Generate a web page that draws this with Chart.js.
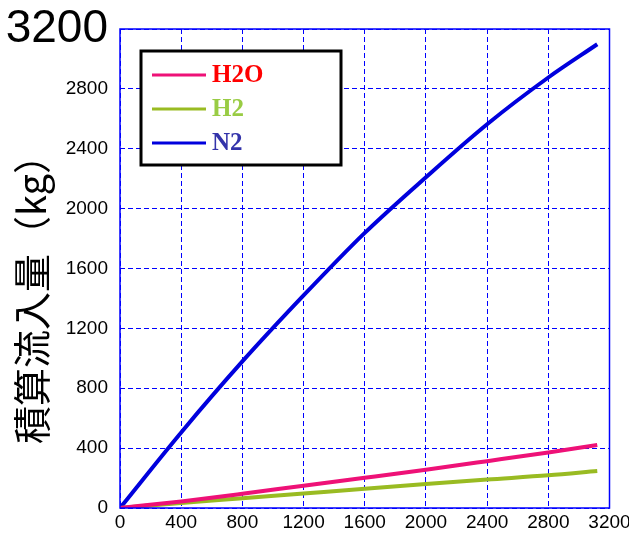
<!DOCTYPE html>
<html>
<head>
<meta charset="utf-8">
<script src="https://cdn.jsdelivr.net/npm/chart.js@4"></script>
<style>
	html, body { margin: 0; padding: 0; background: #fff; }
	#wrap { width: 629px; height: 535px; position: relative; }
</style>
</head>
<body>
<div id="wrap"><canvas id="flow-canvas"></canvas></div>
<script>
// Values
const elapsed = [0, 400, 800, 1200, 1600, 2000, 2400, 2800, 3120];
const h2o = [0, 44, 95, 149, 202, 256, 313, 371, 421];
const h2 = [0, 33, 65, 97, 129, 160, 190, 218, 247];
const n2 = [0, 505, 979, 1420, 1838, 2210, 2564, 2876, 3098];

const seriesNames = ["H2O", "H2", "N2"];
const lineColors = ["#ee1177", "#99bb22", "#0000dd"];
const textColors = ["#ff0000", "#99cc44", "#3333aa"];
const yTitle = "積算流入量（kg）";

const tickFont = "'Liberation Sans Narrow', 'Liberation Sans', Arial, sans-serif";
const gridDash = [5, 3];

function toPoints(values) {
	return elapsed.map((x, i) => ({ x: x, y: values[i] }));
}

// Blue frame + y title + boxed legend
const decorations = {
	id: "decorations",
	afterDraw(chart) {
		const ctx = chart.ctx;
		const area = chart.chartArea;
		ctx.save();

		// plot frame
		ctx.strokeStyle = "#0000ff";
		ctx.lineWidth = 1.5;
		ctx.strokeRect(area.left, area.top, area.right - area.left, area.bottom - area.top);

		// y title
		ctx.translate(32, 290);
		ctx.rotate(-Math.PI / 2);
		ctx.fillStyle = "#000";
		ctx.font = "38px 'Noto Sans CJK JP', sans-serif";
		ctx.textAlign = "center";
		ctx.textBaseline = "middle";
		ctx.fillText(yTitle, 0, 0);
		ctx.restore();

		// legend box
		ctx.save();
		ctx.fillStyle = "#fff";
		ctx.fillRect(141, 51, 200, 114);
		ctx.strokeStyle = "#000";
		ctx.lineWidth = 3;
		ctx.strokeRect(141, 51, 200, 114);
		chart.data.datasets.forEach((ds, i) => {
			const y = 75 + i * 34;
			ctx.strokeStyle = ds.borderColor;
			ctx.lineWidth = 3;
			ctx.beginPath();
			ctx.moveTo(152, y);
			ctx.lineTo(206, y);
			ctx.stroke();
			ctx.fillStyle = textColors[i];
			ctx.font = "bold 25px 'Liberation Serif', 'Times New Roman', serif";
			ctx.textAlign = "left";
			ctx.textBaseline = "middle";
			ctx.fillText(ds.label, 212, y + 1);
		});
		ctx.restore();
	}
};

const ctx = document.getElementById("flow-canvas").getContext("2d");

const chart = new Chart(ctx, {
	type: "line",
	data: {
		datasets: [
			{ label: seriesNames[0], data: toPoints(h2o), borderColor: lineColors[0] },
			{ label: seriesNames[1], data: toPoints(h2), borderColor: lineColors[1] },
			{ label: seriesNames[2], data: toPoints(n2), borderColor: lineColors[2] }
		]
	},
	options: {
		responsive: true,
		maintainAspectRatio: false,
		animation: false,
		layout: {
			padding: { top: 29, right: 19.5, bottom: 0, left: 0 }
		},
		elements: {
			point: { radius: 0 },
			line: { borderWidth: 4, cubicInterpolationMode: "monotone" }
		},
		scales: {
			x: {
				type: "linear",
				min: 0,
				max: 3200,
				afterFit: (scale) => {
					scale.height = 27;
					scale.paddingLeft = 0;
					scale.paddingRight = 0;
				},
				ticks: {
					stepSize: 400,
					color: "#000",
					padding: 3,
					maxRotation: 0,
					callback: (v) => String(v),
					font: { family: tickFont, size: 19 }
				},
				grid: {
					color: "#0000ff",
					lineWidth: 1,
					drawTicks: false,
					borderDash: gridDash
				},
				border: { display: true, width: 0, color: "rgba(0,0,0,0)", dash: gridDash }
			},
			y: {
				min: 0,
				max: 3200,
				afterFit: (scale) => {
					scale.width = 120;
					scale.paddingTop = 0;
					scale.paddingBottom = 0;
				},
				ticks: {
					stepSize: 400,
					color: "#000",
					padding: 12,
					callback: (v) => String(v),
					font: (c) => c.tick && c.tick.value === 3200
						? { family: "'Liberation Sans', Arial, sans-serif", size: 46 }
						: { family: tickFont, size: 19 }
				},
				grid: {
					color: "#0000ff",
					lineWidth: 1,
					drawTicks: false,
					borderDash: gridDash
				},
				border: { display: true, width: 0, color: "rgba(0,0,0,0)", dash: gridDash }
			}
		},
		plugins: {
			legend: { display: false },
			tooltip: { enabled: false }
		}
	},
	plugins: [decorations]
});
</script>
</body>
</html>
